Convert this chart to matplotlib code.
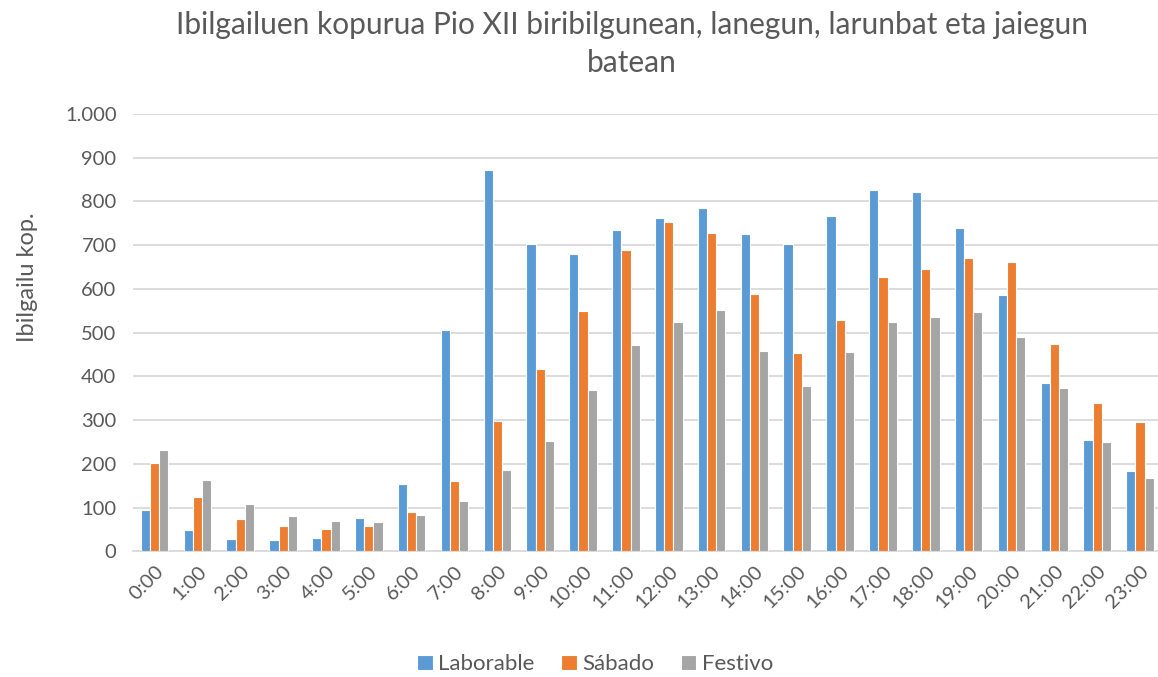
import matplotlib.pyplot as plt
import numpy as np

plt.rcParams['font.family'] = ['Lato', 'DejaVu Sans']

# Hours of the day
hours = [f"{h}:00" for h in range(24)]

# Vehicle counts per hour
laborable = [94, 49, 29, 25, 31, 75, 154, 506, 871, 702, 680, 734,
             763, 786, 725, 702, 766, 827, 821, 740, 587, 384, 255, 184]
sabado = [202, 125, 73, 58, 50, 58, 90, 160, 297, 416, 550, 688,
          754, 728, 589, 453, 529, 627, 646, 670, 661, 475, 340, 296]
festivo = [232, 162, 107, 81, 70, 68, 82, 115, 186, 253, 368, 472,
           524, 551, 457, 378, 456, 524, 536, 548, 490, 374, 250, 167]

series = [("Laborable", laborable, "#5B9BD5"),
          ("Sábado", sabado, "#ED7D31"),
          ("Festivo", festivo, "#A5A5A5")]

text_color = "#595959"

fig = plt.figure(figsize=(11.58, 6.77), dpi=100)
ax = fig.add_axes([0.115, 0.1857, 0.888, 0.646])

x = np.arange(len(hours))
w = 0.215
for i, (name, vals, col) in enumerate(series):
    ax.bar(x + (i - 1) * w, vals, width=w, color=col, edgecolor="white",
           linewidth=0.8, label=name, zorder=3)

ax.set_xlim(-0.5, len(hours) - 0.5)
ax.set_ylim(0, 1000)
ax.set_yticks(range(0, 1001, 100))
ax.set_yticklabels([f"{v:,}".replace(",", ".") for v in range(0, 1001, 100)])
ax.set_xticks(x)
ax.set_xticklabels(hours, rotation=45, ha="right", rotation_mode="anchor")

ax.grid(axis="y", color="#D9D9D9", linewidth=1.3, zorder=0)
for s in ["top", "right", "left"]:
    ax.spines[s].set_visible(False)
ax.spines["bottom"].set_color("#D9D9D9")
ax.spines["bottom"].set_linewidth(1.3)
ax.tick_params(axis="both", length=0, labelsize=14.5, colors=text_color)
ax.tick_params(axis="y", pad=12)
ax.tick_params(axis="x", pad=8)

ax.set_ylabel("Ibilgailu kop.", fontsize=17, color=text_color)
ax.yaxis.set_label_coords(-0.093, 0.627)

fig.text(0.546, 0.935,
         "Ibilgailuen kopurua Pio XII biribilgunean, lanegun, larunbat eta jaiegun\nbatean",
         ha="center", va="center", fontsize=21.5, color=text_color, linespacing=1.4)

ax.legend(loc="center", bbox_to_anchor=(0.514, 0.019), bbox_transform=fig.transFigure,
          ncol=3, frameon=False, fontsize=16, labelcolor=text_color,
          handlelength=0.7, handleheight=0.7, handletextpad=0.25, columnspacing=1.2)

fig.savefig("out.png", dpi=100)
